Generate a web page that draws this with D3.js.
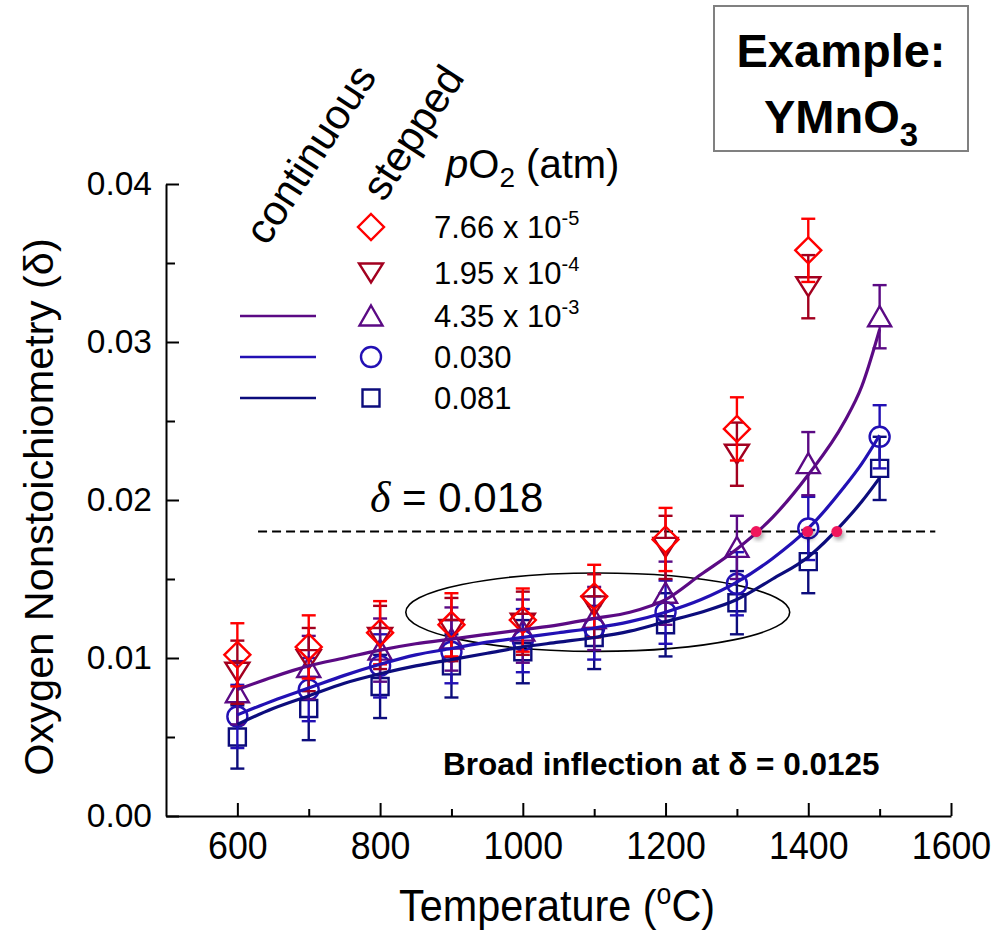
<!DOCTYPE html>
<html>
<head>
<meta charset="utf-8">
<script src="https://cdn.jsdelivr.net/npm/d3@7"></script>
<style>
  body { margin: 0; background: #fff; }
  svg { display: block; }
  text { font-family: "Liberation Sans", Arial, sans-serif; fill: #000; }
</style>
</head>
<body>
<svg id="chart" width="992" height="936"></svg>
<script>
// ---- stepped measurements (equilibrium δ at each temperature step) ----
const stepTemps = [600, 700, 800, 900, 1000, 1100, 1200, 1300, 1400, 1500];
const step766e5 = [0.0102, 0.0107, 0.0116, 0.0121, 0.0124, 0.0139, 0.0175, 0.0245, 0.0358];
const step195e4 = [0.0091, 0.0099, 0.0113, 0.0118, 0.0122, 0.0133, 0.0170, 0.0229, 0.0335];
const step435e3 = [0.0078, 0.0094, 0.0105, 0.0112, 0.0117, 0.0125, 0.0141, 0.0170, 0.0223, 0.0316];
const step030   = [0.0063, 0.0080, 0.0095, 0.0104, 0.0111, 0.0119, 0.0129, 0.0147, 0.0182, 0.0240];
const step081   = [0.0050, 0.0068, 0.0082, 0.0095, 0.0104, 0.0113, 0.0121, 0.0135, 0.0161, 0.0220];
const stepError = 0.002;

// ---- continuous ramps ----
const contTemps = [600, 650, 700, 750, 800, 850, 900, 950, 1000, 1050, 1100, 1150, 1200, 1250, 1300, 1350, 1400, 1450, 1475, 1500];
const cont435e3 = [0.0080, 0.0088, 0.0095, 0.0100, 0.0105, 0.0109, 0.0112, 0.0115, 0.0118, 0.0121, 0.0125, 0.0129, 0.0137, 0.0153, 0.0169, 0.0189, 0.0216, 0.0249, 0.0272, 0.0308];
const cont030   = [0.0064, 0.0073, 0.0081, 0.0089, 0.0096, 0.0102, 0.0106, 0.0110, 0.0113, 0.0116, 0.0119, 0.0123, 0.0129, 0.0137, 0.0148, 0.0163, 0.0182, 0.0208, 0.0223, 0.0241];
const cont081   = [0.0058, 0.0068, 0.0076, 0.0084, 0.0090, 0.0095, 0.0099, 0.0103, 0.0107, 0.0110, 0.0113, 0.0117, 0.0123, 0.0129, 0.0137, 0.0150, 0.0164, 0.0186, 0.0199, 0.0214];

// ---- axes ----
const xMajor = [600, 800, 1000, 1200, 1400, 1600];
const xMinor = [700, 900, 1100, 1300, 1500];
const yMajor = [0, 0.01, 0.02, 0.03, 0.04];
const yMinor = [0.005, 0.015, 0.025, 0.035];

// ---- annotations ----
const thresholdDelta = 0.018;
const thresholdFrom = 629, thresholdTo = 1578;
const crossingTemps = [1327, 1399, 1440];
const inflectionCenter = [1105, 0.0129];
const inflectionRadii = [269, 0.00248];

// ---- legend ----
const legendLabels = ["7.66 x 10", "1.95 x 10", "4.35 x 10", "0.030", "0.081"];
const legendExponents = ["-5", "-4", "-3", "", ""];

const colors = {
  r766e5: "#ff0000",
  r195e4: "#a3001f",
  r435e3: "#5b0a84",
  r030:   "#2210b4",
  r081:   "#0c0c7c"
};

const svg = d3.select("#chart");
const x = d3.scaleLinear().domain([500, 1600]).range([166, 951]);
const y = d3.scaleLinear().domain([0, 0.04]).range([816, 184]);

// marker outlines, centred on the data point
const shapes = {
  diamond: { path: "M0,-13L13,0L0,13L-13,0Z", half: 13 },
  down:    { path: "M-12,-9.5L12,-9.5L0,9.5Z", half: 9.5 },
  up:      { path: "M0,-10.5L11.5,9.5L-11.5,9.5Z", half: 10 },
  circle:  { path: "M10,0A10,10 0 1,1 -10,0A10,10 0 1,1 10,0Z", half: 10 },
  square:  { path: "M-8.5,-8.5H8.5V8.5H-8.5Z", half: 8.5 }
};

const stepSeries = [
  { vals: step081,   color: colors.r081,   shape: "square" },
  { vals: step030,   color: colors.r030,   shape: "circle" },
  { vals: step435e3, color: colors.r435e3, shape: "up" },
  { vals: step195e4, color: colors.r195e4, shape: "down" },
  { vals: step766e5, color: colors.r766e5, shape: "diamond" }
];

// ---- axes ----
const yAxis = d3.axisLeft(y).tickValues(yMajor).tickFormat(d3.format(".2f"))
  .tickSizeInner(-13).tickSizeOuter(0).tickPadding(14);
const gy = svg.append("g").attr("transform", "translate(166,0)").call(yAxis);
gy.selectAll("text").style("font-size", "33.5px");
svg.append("g").attr("transform", "translate(166,0)")
  .call(d3.axisLeft(y).tickValues(yMinor).tickFormat("").tickSizeInner(-9).tickSizeOuter(0))
  .select(".domain").remove();

const xAxis = d3.axisBottom(x).tickValues(xMajor).tickFormat(d3.format("d"))
  .tickSizeInner(-13).tickSizeOuter(0).tickPadding(16);
const gx = svg.append("g").attr("transform", "translate(0,816)").call(xAxis);
gx.selectAll("text").style("font-size", "38px").attr("transform", "scale(0.94,1)");
svg.append("g").attr("transform", "translate(0,816)")
  .call(d3.axisBottom(x).tickValues(xMinor).tickFormat("").tickSizeInner(-7).tickSizeOuter(0))
  .select(".domain").remove();

svg.selectAll(".domain, .tick line").attr("stroke", "#000").attr("stroke-width", 2);

// axis titles
svg.append("text")
  .attr("transform", "translate(53,507) rotate(-90)")
  .attr("text-anchor", "middle").style("font-size", "41.5px")
  .text("Oxygen Nonstoichiometry (δ)");

const xt = svg.append("text")
  .attr("transform", "translate(557,921) scale(0.92,1)")
  .attr("text-anchor", "middle").style("font-size", "45px");
xt.append("tspan").text("Temperature (");
xt.append("tspan").attr("dy", -17).style("font-size", "29px").text("o");
xt.append("tspan").attr("dy", 17).text("C)");

// ---- threshold line and its label ----
svg.append("line")
  .attr("x1", x(thresholdFrom)).attr("x2", x(thresholdTo))
  .attr("y1", y(thresholdDelta)).attr("y2", y(thresholdDelta))
  .attr("stroke", "#000").attr("stroke-width", 2).attr("stroke-dasharray", "9,5");

const dl = svg.append("text").attr("x", 370).attr("y", 512).style("font-size", "42px");
dl.append("tspan").style("font-family", "'Liberation Serif', 'Times New Roman', serif")
  .style("font-style", "italic").style("font-size", "44px").text("δ");
dl.append("tspan").text(" = 0.018");

// ---- inflection ellipse ----
svg.append("ellipse")
  .attr("cx", x(inflectionCenter[0])).attr("cy", y(inflectionCenter[1]))
  .attr("rx", x(inflectionCenter[0] + inflectionRadii[0]) - x(inflectionCenter[0]))
  .attr("ry", y(inflectionCenter[1]) - y(inflectionCenter[1] + inflectionRadii[1]))
  .attr("fill", "none").attr("stroke", "#000").attr("stroke-width", 1.6);

svg.append("text").attr("x", 443).attr("y", 775)
  .style("font-size", "31.5px").style("font-weight", "bold")
  .text("Broad inflection at δ = 0.0125");

// ---- stepped points with error bars ----
stepSeries.forEach(s => {
  const half = shapes[s.shape].half;
  const pts = s.vals.map((v, i) => ({ t: stepTemps[i], v }));
  const g = svg.append("g").attr("stroke", s.color).attr("stroke-width", 2.4).attr("fill", "none");
  const bars = g.selectAll("g.bar").data(pts).join("g").attr("class", "bar");
  bars.append("line")
    .attr("x1", d => x(d.t)).attr("x2", d => x(d.t))
    .attr("y1", d => y(d.v + stepError)).attr("y2", d => y(d.v) - half);
  bars.append("line")
    .attr("x1", d => x(d.t)).attr("x2", d => x(d.t))
    .attr("y1", d => y(d.v) + half).attr("y2", d => y(d.v - stepError));
  bars.append("line")
    .attr("x1", d => x(d.t) - 7).attr("x2", d => x(d.t) + 7)
    .attr("y1", d => y(d.v + stepError)).attr("y2", d => y(d.v + stepError));
  bars.append("line")
    .attr("x1", d => x(d.t) - 7).attr("x2", d => x(d.t) + 7)
    .attr("y1", d => y(d.v - stepError)).attr("y2", d => y(d.v - stepError));
  g.selectAll("path").data(pts).join("path")
    .attr("d", shapes[s.shape].path)
    .attr("transform", d => `translate(${x(d.t)},${y(d.v)})`);
});

// ---- continuous curves ----
const line = d3.line().x(d => x(d.t)).y(d => y(d.v)).curve(d3.curveMonotoneX);
[
  { vals: cont081,   color: colors.r081 },
  { vals: cont030,   color: colors.r030 },
  { vals: cont435e3, color: colors.r435e3 }
].forEach(c => {
  svg.append("path")
    .datum(c.vals.map((v, i) => ({ t: contTemps[i], v })))
    .attr("d", line).attr("fill", "none")
    .attr("stroke", c.color).attr("stroke-width", 3.2).attr("stroke-linejoin", "round");
});

// ---- crossings of the δ threshold ----
const defs = svg.append("defs");
const f = defs.append("filter").attr("id", "dotShadow").attr("x", "-50%").attr("y", "-50%").attr("width", "200%").attr("height", "200%");
f.append("feDropShadow").attr("dx", 2).attr("dy", 3).attr("stdDeviation", 2)
  .attr("flood-color", "#000").attr("flood-opacity", 0.35);
svg.append("g").selectAll("circle").data(crossingTemps).join("circle")
  .attr("cx", d => x(d)).attr("cy", y(thresholdDelta)).attr("r", 5.5)
  .attr("fill", "#f0145c").attr("filter", "url(#dotShadow)");

// ---- legend ----
svg.append("text").attr("transform", "translate(267,247) rotate(-57)")
  .style("font-size", "42px").text("continuous");
svg.append("text").attr("transform", "translate(384,203) rotate(-57)")
  .style("font-size", "42px").text("stepped");

const hdr = svg.append("text").attr("x", 446).attr("y", 178).style("font-size", "40px");
hdr.append("tspan").style("font-style", "italic").text("p");
hdr.append("tspan").text("O");
hdr.append("tspan").attr("dy", 9).style("font-size", "28px").text("2");
hdr.append("tspan").attr("dy", -9).text(" (atm)");

const legendRows = [227, 273, 316, 357, 398];
const legendShapes = ["diamond", "down", "up", "circle", "square"];
const legendColors = [colors.r766e5, colors.r195e4, colors.r435e3, colors.r030, colors.r081];
const legendHasLine = [false, false, true, true, true];

legendRows.forEach((ry, i) => {
  if (legendHasLine[i]) {
    svg.append("line").attr("x1", 240).attr("x2", 316).attr("y1", ry).attr("y2", ry)
      .attr("stroke", legendColors[i]).attr("stroke-width", 2.5);
  }
  svg.append("path").attr("d", shapes[legendShapes[i]].path)
    .attr("transform", `translate(371,${ry})`)
    .attr("fill", "none").attr("stroke", legendColors[i]).attr("stroke-width", 2.4);
  const t = svg.append("text").attr("x", 434).attr("y", ry + 11).style("font-size", "31px");
  t.append("tspan").text(legendLabels[i]);
  if (legendExponents[i]) {
    t.append("tspan").attr("dy", -13).style("font-size", "20px").text(legendExponents[i]);
  }
});

// ---- compound box ----
svg.append("rect").attr("x", 714).attr("y", 6).attr("width", 254).attr("height", 145)
  .attr("fill", "#fff").attr("stroke", "#808080").attr("stroke-width", 2);
svg.append("text").attr("x", 841).attr("y", 67).attr("text-anchor", "middle")
  .style("font-size", "47px").style("font-weight", "bold").text("Example:");
const ym = svg.append("text").attr("x", 841).attr("y", 133).attr("text-anchor", "middle")
  .style("font-size", "47px").style("font-weight", "bold");
ym.append("tspan").text("YMnO");
ym.append("tspan").attr("dy", 13).style("font-size", "33px").text("3");
</script>
</body>
</html>
